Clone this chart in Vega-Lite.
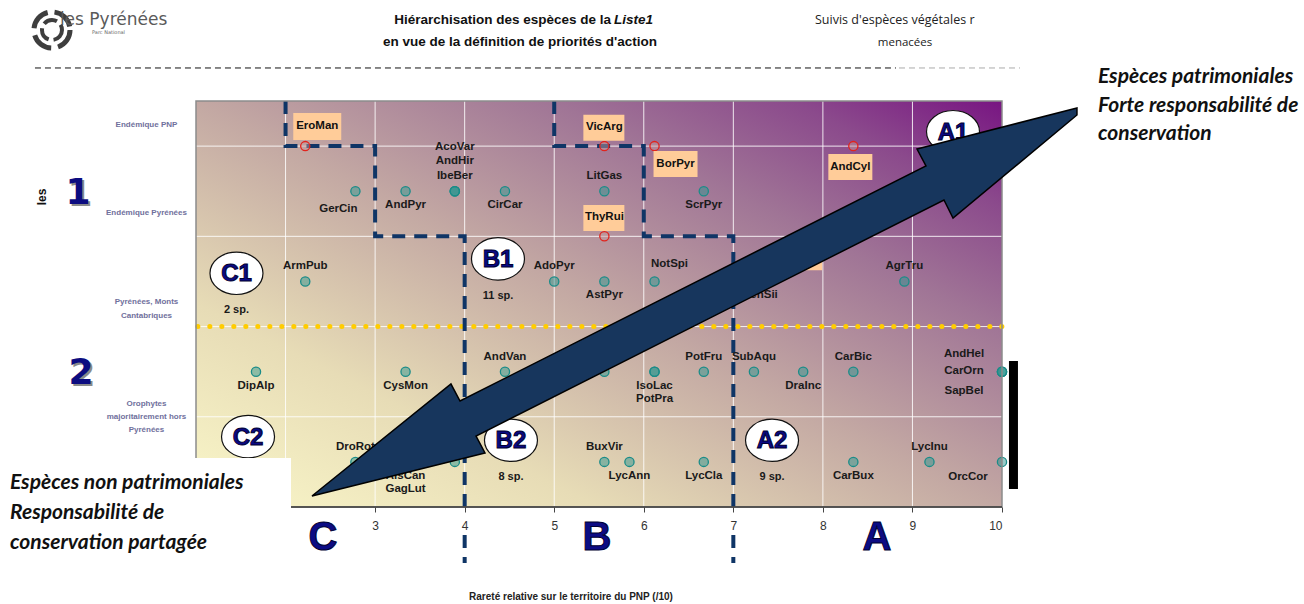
{
  "$schema": "https://vega.github.io/schema/vega-lite/v6.json",
  "width": 806,
  "height": 406,
  "autosize": {"type": "none"},
  "padding": {"left": 196, "top": 101, "right": 302, "bottom": 97},
  "background": "white",
  "config": {
    "view": {"stroke": null},
    "axisX": {"grid": false, "domain": false, "titleOpacity": 0}
  },
  "datasets": {
    "pts": [
      {"sp": "EroMan", "x": 2.22, "y": 4, "g": "red", "lp": "rar"},
      {"sp": "VicArg", "x": 5.56, "y": 4, "g": "red", "lp": "ra"},
      {"sp": "BorPyr", "x": 6.12, "y": 4, "g": "red", "lp": "rbr"},
      {"sp": "AndCyl", "x": 8.34, "y": 4, "g": "red", "lp": "rb"},
      {"sp": "ThyRui", "x": 5.56, "y": 3, "g": "red", "lp": "ra"},
      {"sp": "AndSii", "x": 7.78, "y": 3, "g": "red", "lp": "rb"},
      {"sp": "GerCin", "x": 2.78, "y": 3.5, "g": "teal", "lp": "bl"},
      {"sp": "AndPyr", "x": 3.34, "y": 3.5, "g": "teal", "lp": "b"},
      {"sp": "AcoVar", "x": 3.89, "y": 3.5, "g": "teal", "lp": "a3"},
      {"sp": "AndHir", "x": 3.89, "y": 3.5, "g": "teal", "lp": "a2"},
      {"sp": "IbeBer", "x": 3.89, "y": 3.5, "g": "teal", "lp": "a"},
      {"sp": "CirCar", "x": 4.45, "y": 3.5, "g": "teal", "lp": "b"},
      {"sp": "LitGas", "x": 5.56, "y": 3.5, "g": "teal", "lp": "a"},
      {"sp": "ScrPyr", "x": 6.67, "y": 3.5, "g": "teal", "lp": "b"},
      {"sp": "ArmPub", "x": 2.22, "y": 2.5, "g": "teal", "lp": "a"},
      {"sp": "AdoPyr", "x": 5.0, "y": 2.5, "g": "teal", "lp": "a"},
      {"sp": "AstPyr", "x": 5.56, "y": 2.5, "g": "teal", "lp": "b"},
      {"sp": "NotSpi", "x": 6.12, "y": 2.5, "g": "teal", "lp": "ar"},
      {"sp": "SenSii", "x": 7.3, "y": 2.5, "g": "teal", "lp": "b"},
      {"sp": "AgrTru", "x": 8.91, "y": 2.5, "g": "teal", "lp": "a"},
      {"sp": "DipAlp", "x": 1.67, "y": 1.5, "g": "teal", "lp": "b"},
      {"sp": "CysMon", "x": 3.34, "y": 1.5, "g": "teal", "lp": "b"},
      {"sp": "AndVan", "x": 4.45, "y": 1.5, "g": "teal", "lp": "a"},
      {"sp": "GenPyr", "x": 5.56, "y": 1.5, "g": "teal", "lp": "a"},
      {"sp": "IsoLac", "x": 6.12, "y": 1.5, "g": "teal", "lp": "b"},
      {"sp": "PotPra", "x": 6.12, "y": 1.5, "g": "teal", "lp": "b2"},
      {"sp": "PotFru", "x": 6.67, "y": 1.5, "g": "teal", "lp": "a"},
      {"sp": "SubAqu", "x": 7.23, "y": 1.5, "g": "teal", "lp": "a"},
      {"sp": "DraInc", "x": 7.78, "y": 1.5, "g": "teal", "lp": "b"},
      {"sp": "CarBic", "x": 8.34, "y": 1.5, "g": "teal", "lp": "a"},
      {"sp": "AndHel", "x": 10, "y": 1.5, "g": "teal", "lp": "la"},
      {"sp": "CarOrn", "x": 10, "y": 1.5, "g": "teal", "lp": "l"},
      {"sp": "SapBel", "x": 10, "y": 1.5, "g": "teal", "lp": "lb"},
      {"sp": "DroRot", "x": 2.78, "y": 0.5, "g": "teal", "lp": "a"},
      {"sp": "AlsCan", "x": 3.34, "y": 0.5, "g": "teal", "lp": "b"},
      {"sp": "GagLut", "x": 3.34, "y": 0.5, "g": "teal", "lp": "b2"},
      {"sp": "SilPyr", "x": 3.89, "y": 0.5, "g": "teal", "lp": "a"},
      {"sp": "BuxVir", "x": 5.56, "y": 0.5, "g": "teal", "lp": "a"},
      {"sp": "LycAnn", "x": 5.84, "y": 0.5, "g": "teal", "lp": "b"},
      {"sp": "LycCla", "x": 6.67, "y": 0.5, "g": "teal", "lp": "b"},
      {"sp": "CarBux", "x": 8.34, "y": 0.5, "g": "teal", "lp": "b"},
      {"sp": "LycInu", "x": 9.19, "y": 0.5, "g": "teal", "lp": "a"},
      {"sp": "OrcCor", "x": 10, "y": 0.5, "g": "teal", "lp": "bll"}
    ],
    "zones": [
      {"z": "C1", "x": 1.452, "y": 2.59, "n": "2 sp."},
      {"z": "B1", "x": 4.372, "y": 2.75, "n": "11 sp."},
      {"z": "A1", "x": 9.453, "y": 4.16, "n": ""},
      {"z": "C2", "x": 1.581, "y": 0.78, "n": ""},
      {"z": "B2", "x": 4.517, "y": 0.74, "n": "8 sp."},
      {"z": "A2", "x": 7.432, "y": 0.74, "n": "9 sp."}
    ],
    "bounds": [
      {"b": "C", "o": 1, "x": 2, "y": 4.5},
      {"b": "C", "o": 2, "x": 2, "y": 4},
      {"b": "C", "o": 3, "x": 3, "y": 4},
      {"b": "C", "o": 4, "x": 3, "y": 3},
      {"b": "C", "o": 5, "x": 4, "y": 3},
      {"b": "C", "o": 6, "x": 4, "y": 0},
      {"b": "Cb", "o": 1, "x": 4, "y": -0.31},
      {"b": "Cb", "o": 2, "x": 4, "y": -0.62},
      {"b": "B", "o": 1, "x": 5, "y": 4.5},
      {"b": "B", "o": 2, "x": 5, "y": 4},
      {"b": "B", "o": 3, "x": 6, "y": 4},
      {"b": "B", "o": 4, "x": 6, "y": 3},
      {"b": "B", "o": 5, "x": 7, "y": 3},
      {"b": "B", "o": 6, "x": 7, "y": 0},
      {"b": "Bb", "o": 1, "x": 7, "y": -0.31},
      {"b": "Bb", "o": 2, "x": 7, "y": -0.62}
    ],
    "arrow": [
      {"o": 1, "x": 2.295, "y": 0.122},
      {"o": 2, "x": 3.847, "y": 1.363},
      {"o": 3, "x": 3.948, "y": 1.175},
      {"o": 4, "x": 9.151, "y": 3.78},
      {"o": 5, "x": 9.051, "y": 3.968},
      {"o": 6, "x": 10.837, "y": 4.422},
      {"o": 7, "x": 10.837, "y": 4.345},
      {"o": 8, "x": 9.453, "y": 3.203},
      {"o": 9, "x": 9.352, "y": 3.403},
      {"o": 10, "x": 4.127, "y": 0.787},
      {"o": 11, "x": 4.227, "y": 0.599}
    ],
    "gx": [{"v": 2}, {"v": 3}, {"v": 4}, {"v": 5}, {"v": 6}, {"v": 7}, {"v": 8}, {"v": 9}],
    "gy": [{"v": 1}, {"v": 2}, {"v": 3}, {"v": 4}],
    "notes": [
      {"k": "ttlR", "t": "Hiérarchisation des espèces de la", "x": 5.634, "y": 5.398},
      {"k": "ttlI", "t": "Liste1", "x": 5.668, "y": 5.398},
      {"k": "ttl", "t": "en vue de la définition de priorités d'action", "x": 4.618, "y": 5.154},
      {"k": "sv", "t": "Suivis d'espèces végétales r", "x": 7.912, "y": 5.398},
      {"k": "svc", "t": "menacées", "x": 8.917, "y": 5.143},
      {"k": "logo", "t": "les Pyrénées", "x": -0.52, "y": 5.398},
      {"k": "logo2", "t": "Parc National", "x": -0.161, "y": 5.266},
      {"k": "side", "t": "Espèces patrimoniales", "x": 11.072, "y": 4.766},
      {"k": "side", "t": "Forte responsabilité de", "x": 11.072, "y": 4.445},
      {"k": "side", "t": "conservation", "x": 11.072, "y": 4.134},
      {"k": "side", "t": "Espèces non patrimoniales", "x": -1.077, "y": 0.266},
      {"k": "side", "t": "Responsabilité de", "x": -1.077, "y": -0.066},
      {"k": "side", "t": "conservation partagée", "x": -1.077, "y": -0.399},
      {"k": "ylab", "t": "Endémique PNP", "x": 0.447, "y": 4.234},
      {"k": "ylab", "t": "Endémique Pyrénées", "x": 0.447, "y": 3.259},
      {"k": "ylab", "t": "Pyrénées, Monts", "x": 0.447, "y": 2.272},
      {"k": "ylab", "t": "Cantabriques", "x": 0.447, "y": 2.117},
      {"k": "ylab", "t": "Orophytes", "x": 0.447, "y": 1.142},
      {"k": "ylab", "t": "majoritairement hors", "x": 0.447, "y": 0.998},
      {"k": "ylab", "t": "Pyrénées", "x": 0.447, "y": 0.853},
      {"k": "dig", "t": "1", "x": -0.318, "y": 3.48},
      {"k": "dig", "t": "2", "x": -0.284, "y": 1.485},
      {"k": "let", "t": "C", "x": 2.418, "y": -0.344},
      {"k": "let", "t": "B", "x": 5.478, "y": -0.344},
      {"k": "let", "t": "A", "x": 8.604, "y": -0.344},
      {"k": "axt", "t": "Rareté relative sur le territoire du PNP (/10)", "x": 5.187, "y": -0.998},
      {"k": "les", "t": "les", "x": -0.72, "y": 3.436}
    ]
  },
  "layer": [
    {
      "data": {"values": [{}]},
      "mark": {"type": "rect", "fill": {"gradient": "linear", "x1": 0, "y1": 1, "x2": 1, "y2": 0, "stops": [
        {"offset": 0, "color": "#faf7c9"},
        {"offset": 0.25, "color": "#e7dcb6"},
        {"offset": 0.5, "color": "#c3a8a3"},
        {"offset": 0.72, "color": "#a07596"},
        {"offset": 0.87, "color": "#8b4a8c"},
        {"offset": 1, "color": "#781582"}]}},
      "encoding": {
        "x": {"datum": 1, "type": "quantitative", "scale": {"domain": [1, 10], "nice": false, "zero": false}},
        "x2": {"datum": 10},
        "y": {"datum": 0, "type": "quantitative", "scale": {"domain": [0, 4.5], "nice": false, "zero": false}, "axis": null},
        "y2": {"datum": 4.5}
      }
    },
    {
      "data": {"name": "gx"},
      "mark": {"type": "rule", "color": "#ffffff", "strokeWidth": 1, "opacity": 0.85},
      "encoding": {"x": {"field": "v", "type": "quantitative", "title": null}}
    },
    {
      "data": {"name": "gy"},
      "mark": {"type": "rule", "color": "#ffffff", "strokeWidth": 1, "opacity": 0.85},
      "encoding": {"y": {"field": "v", "type": "quantitative", "axis": null}}
    },
    {
      "data": {"values": [{}]},
      "mark": {"type": "rule", "color": "#ffcc00", "strokeWidth": 5, "strokeDash": [0.1, 11.9], "strokeCap": "round"},
      "encoding": {"x": {"datum": 1.02, "type": "quantitative"}, "x2": {"datum": 10.04}, "y": {"datum": 2, "type": "quantitative", "axis": null}}
    },
    {
      "data": {"name": "bounds"},
      "mark": {"type": "line", "color": "#0f3566", "strokeWidth": 4, "strokeDash": [13, 9], "clip": false},
      "encoding": {
        "x": {"field": "x", "type": "quantitative", "title": null},
        "y": {"field": "y", "type": "quantitative", "axis": null},
        "detail": {"field": "b"},
        "order": {"field": "o", "type": "quantitative"}
      }
    },
    {
      "data": {"name": "pts"},
      "mark": {"type": "circle", "size": 85, "fillOpacity": 0.5, "strokeWidth": 1.3, "opacity": 1},
      "encoding": {
        "x": {"field": "x", "type": "quantitative", "title": null, "axis": {"values": [3, 4, 5, 6, 7, 8, 9, 10], "format": "d", "title": null, "grid": false, "domain": false, "ticks": true, "tickColor": "#444", "tickSize": 5, "labelFont": "Liberation Sans", "labelFontSize": 12, "labelColor": "#333", "labelPadding": 8, "zindex": 1}},
        "y": {"field": "y", "type": "quantitative", "axis": null},
        "fill": {"field": "g", "type": "nominal", "scale": {"domain": ["teal", "red"], "range": ["#2f958f", "#c49a9a"]}, "legend": null},
        "stroke": {"field": "g", "type": "nominal", "scale": {"domain": ["teal", "red"], "range": ["#1a8c88", "#e2231c"]}, "legend": null}
      }
    },
    {
      "data": {"name": "pts"},
      "transform": [{"filter": "datum.lp == 'a'"}],
      "mark": {"type": "text", "dy": -15, "font": "Liberation Sans", "fontWeight": "bold", "fontSize": 11.5, "color": "#1a1a1a"},
      "encoding": {"x": {"field": "x", "type": "quantitative", "title": null}, "y": {"field": "y", "type": "quantitative", "axis": null}, "text": {"field": "sp"}}
    },
    {
      "data": {"name": "pts"},
      "transform": [{"filter": "datum.lp == 'a2'"}],
      "mark": {"type": "text", "dy": -30, "font": "Liberation Sans", "fontWeight": "bold", "fontSize": 11.5, "color": "#1a1a1a"},
      "encoding": {"x": {"field": "x", "type": "quantitative", "title": null}, "y": {"field": "y", "type": "quantitative", "axis": null}, "text": {"field": "sp"}}
    },
    {
      "data": {"name": "pts"},
      "transform": [{"filter": "datum.lp == 'a3'"}],
      "mark": {"type": "text", "dy": -44, "font": "Liberation Sans", "fontWeight": "bold", "fontSize": 11.5, "color": "#1a1a1a"},
      "encoding": {"x": {"field": "x", "type": "quantitative", "title": null}, "y": {"field": "y", "type": "quantitative", "axis": null}, "text": {"field": "sp"}}
    },
    {
      "data": {"name": "pts"},
      "transform": [{"filter": "datum.lp == 'b'"}],
      "mark": {"type": "text", "dy": 14, "font": "Liberation Sans", "fontWeight": "bold", "fontSize": 11.5, "color": "#1a1a1a"},
      "encoding": {"x": {"field": "x", "type": "quantitative", "title": null}, "y": {"field": "y", "type": "quantitative", "axis": null}, "text": {"field": "sp"}}
    },
    {
      "data": {"name": "pts"},
      "transform": [{"filter": "datum.lp == 'b2'"}],
      "mark": {"type": "text", "dy": 27, "font": "Liberation Sans", "fontWeight": "bold", "fontSize": 11.5, "color": "#1a1a1a"},
      "encoding": {"x": {"field": "x", "type": "quantitative", "title": null}, "y": {"field": "y", "type": "quantitative", "axis": null}, "text": {"field": "sp"}}
    },
    {
      "data": {"name": "pts"},
      "transform": [{"filter": "datum.lp == 'ar'"}],
      "mark": {"type": "text", "dx": 15, "dy": -17, "font": "Liberation Sans", "fontWeight": "bold", "fontSize": 11.5, "color": "#1a1a1a"},
      "encoding": {"x": {"field": "x", "type": "quantitative", "title": null}, "y": {"field": "y", "type": "quantitative", "axis": null}, "text": {"field": "sp"}}
    },
    {
      "data": {"name": "pts"},
      "transform": [{"filter": "datum.lp == 'bl'"}],
      "mark": {"type": "text", "dx": -17, "dy": 18, "font": "Liberation Sans", "fontWeight": "bold", "fontSize": 11.5, "color": "#1a1a1a"},
      "encoding": {"x": {"field": "x", "type": "quantitative", "title": null}, "y": {"field": "y", "type": "quantitative", "axis": null}, "text": {"field": "sp"}}
    },
    {
      "data": {"name": "pts"},
      "transform": [{"filter": "datum.lp == 'bll'"}],
      "mark": {"type": "text", "dx": -34, "dy": 15, "font": "Liberation Sans", "fontWeight": "bold", "fontSize": 11.5, "color": "#1a1a1a"},
      "encoding": {"x": {"field": "x", "type": "quantitative", "title": null}, "y": {"field": "y", "type": "quantitative", "axis": null}, "text": {"field": "sp"}}
    },
    {
      "data": {"name": "pts"},
      "transform": [{"filter": "datum.lp == 'la'"}],
      "mark": {"type": "text", "dx": -38, "dy": -18, "font": "Liberation Sans", "fontWeight": "bold", "fontSize": 11.5, "color": "#1a1a1a"},
      "encoding": {"x": {"field": "x", "type": "quantitative", "title": null}, "y": {"field": "y", "type": "quantitative", "axis": null}, "text": {"field": "sp"}}
    },
    {
      "data": {"name": "pts"},
      "transform": [{"filter": "datum.lp == 'l'"}],
      "mark": {"type": "text", "dx": -38, "dy": -1, "font": "Liberation Sans", "fontWeight": "bold", "fontSize": 11.5, "color": "#1a1a1a"},
      "encoding": {"x": {"field": "x", "type": "quantitative", "title": null}, "y": {"field": "y", "type": "quantitative", "axis": null}, "text": {"field": "sp"}}
    },
    {
      "data": {"name": "pts"},
      "transform": [{"filter": "datum.lp == 'lb'"}],
      "mark": {"type": "text", "dx": -38, "dy": 19, "font": "Liberation Sans", "fontWeight": "bold", "fontSize": 11.5, "color": "#1a1a1a"},
      "encoding": {"x": {"field": "x", "type": "quantitative", "title": null}, "y": {"field": "y", "type": "quantitative", "axis": null}, "text": {"field": "sp"}}
    },
    {
      "data": {"name": "pts"},
      "transform": [{"filter": "datum.g == 'red'"}],
      "mark": {"type": "point", "filled": true, "fill": "#ffcc99", "opacity": 1, "size": 1936, "strokeWidth": 0},
      "encoding": {
        "x": {"field": "x", "type": "quantitative", "title": null},
        "y": {"field": "y", "type": "quantitative", "axis": null},
        "shape": {"field": "lp", "type": "nominal", "legend": null, "scale": {"domain": ["ra", "rar", "rb", "rbr"], "range": [
          "M-0.955,-1.42L0.909,-1.42L0.909,-0.24L-0.955,-0.24Z",
          "M-0.545,-1.5L1.636,-1.5L1.636,-0.273L-0.545,-0.273Z",
          "M-1.136,0.364L0.864,0.364L0.864,1.545L-1.136,1.545Z",
          "M-0.045,0.227L1.955,0.227L1.955,1.409L-0.045,1.409Z"]}}
      }
    },
    {
      "data": {"name": "pts"},
      "transform": [{"filter": "datum.lp == 'ra'"}],
      "mark": {"type": "text", "dy": -19, "font": "Liberation Sans", "fontWeight": "bold", "fontSize": 11.5, "color": "#111"},
      "encoding": {"x": {"field": "x", "type": "quantitative", "title": null}, "y": {"field": "y", "type": "quantitative", "axis": null}, "text": {"field": "sp"}}
    },
    {
      "data": {"name": "pts"},
      "transform": [{"filter": "datum.lp == 'rar'"}],
      "mark": {"type": "text", "dx": 12, "dy": -20, "font": "Liberation Sans", "fontWeight": "bold", "fontSize": 11.5, "color": "#111"},
      "encoding": {"x": {"field": "x", "type": "quantitative", "title": null}, "y": {"field": "y", "type": "quantitative", "axis": null}, "text": {"field": "sp"}}
    },
    {
      "data": {"name": "pts"},
      "transform": [{"filter": "datum.lp == 'rb'"}],
      "mark": {"type": "text", "dx": -3, "dy": 21, "font": "Liberation Sans", "fontWeight": "bold", "fontSize": 11.5, "color": "#111"},
      "encoding": {"x": {"field": "x", "type": "quantitative", "title": null}, "y": {"field": "y", "type": "quantitative", "axis": null}, "text": {"field": "sp"}}
    },
    {
      "data": {"name": "pts"},
      "transform": [{"filter": "datum.lp == 'rbr'"}],
      "mark": {"type": "text", "dx": 21, "dy": 18, "font": "Liberation Sans", "fontWeight": "bold", "fontSize": 11.5, "color": "#111"},
      "encoding": {"x": {"field": "x", "type": "quantitative", "title": null}, "y": {"field": "y", "type": "quantitative", "axis": null}, "text": {"field": "sp"}}
    },
    {
      "data": {"name": "zones"},
      "mark": {"type": "point", "filled": true, "fill": "#ffffff", "stroke": "#111111", "strokeWidth": 1.2, "opacity": 1, "size": 2809, "shape": "M-1,0A1,0.8,0,1,1,1,0A1,0.8,0,1,1,-1,0Z"},
      "encoding": {"x": {"field": "x", "type": "quantitative", "title": null}, "y": {"field": "y", "type": "quantitative", "axis": null}}
    },
    {
      "data": {"name": "zones"},
      "mark": {"type": "text", "font": "Liberation Sans", "fontWeight": "bold", "fontSize": 24, "color": "#0a0a84", "stroke": "#000033", "strokeWidth": 1, "dy": 1},
      "encoding": {"x": {"field": "x", "type": "quantitative", "title": null}, "y": {"field": "y", "type": "quantitative", "axis": null}, "text": {"field": "z"}}
    },
    {
      "data": {"name": "zones"},
      "mark": {"type": "text", "font": "Liberation Sans", "fontWeight": "bold", "fontSize": 11, "color": "#1a1a1a", "dy": 37},
      "encoding": {"x": {"field": "x", "type": "quantitative", "title": null}, "y": {"field": "y", "type": "quantitative", "axis": null}, "text": {"field": "n"}}
    },
    {
      "data": {"values": [{}]},
      "mark": {"type": "rect", "fill": null, "stroke": "#8c8c8c", "strokeWidth": 1.5},
      "encoding": {"x": {"datum": 1, "type": "quantitative"}, "x2": {"datum": 10}, "y": {"datum": 0, "type": "quantitative", "axis": null}, "y2": {"datum": 4.5}}
    },
    {
      "data": {"values": [{}]},
      "mark": {"type": "rule", "color": "#3a3a3a", "strokeWidth": 1.5},
      "encoding": {"x": {"datum": 1, "type": "quantitative"}, "x2": {"datum": 10}, "y": {"datum": 0, "type": "quantitative", "axis": null}}
    },
    {
      "data": {"values": [{}]},
      "mark": {"type": "rule", "color": "#000000", "strokeWidth": 9},
      "encoding": {"x": {"datum": 10.128, "type": "quantitative"}, "y": {"datum": 1.618, "type": "quantitative", "axis": null}, "y2": {"datum": 0.2}}
    },
    {
      "data": {"values": [{}]},
      "mark": {"type": "rect", "fill": "#ffffff", "strokeWidth": 0},
      "encoding": {"x": {"datum": -1.3, "type": "quantitative"}, "x2": {"datum": 2.061}, "y": {"datum": -1.2, "type": "quantitative", "axis": null}, "y2": {"datum": 0.543}}
    },
    {
      "data": {"name": "arrow"},
      "mark": {"type": "line", "interpolate": "linear-closed", "fill": "#17365d", "stroke": "#000000", "strokeWidth": 1.5, "clip": false},
      "encoding": {
        "x": {"field": "x", "type": "quantitative", "title": null},
        "y": {"field": "y", "type": "quantitative", "axis": null},
        "order": {"field": "o", "type": "quantitative"}
      }
    },
    {
      "data": {"values": [{}]},
      "mark": {"type": "rule", "color": "#111111", "strokeWidth": 1, "strokeDash": [6, 4]},
      "encoding": {"x": {"datum": -0.798, "type": "quantitative"}, "x2": {"datum": 8.816}, "y": {"datum": 4.866, "type": "quantitative", "axis": null}}
    },
    {
      "data": {"values": [{}]},
      "mark": {"type": "rule", "color": "#aaaaaa", "strokeWidth": 1, "strokeDash": [6, 4]},
      "encoding": {"x": {"datum": 8.85, "type": "quantitative"}, "x2": {"datum": 10.201}, "y": {"datum": 4.866, "type": "quantitative", "axis": null}}
    },
    {
      "data": {"values": [{}]},
      "mark": {"type": "point", "shape": "circle", "filled": false, "stroke": "#2a2a2a", "strokeWidth": 5, "strokeDash": [22, 7], "size": 1300, "opacity": 0.9},
      "encoding": {"x": {"datum": -0.608, "type": "quantitative"}, "y": {"datum": 5.287, "type": "quantitative", "axis": null}}
    },
    {
      "data": {"values": [{}]},
      "mark": {"type": "point", "shape": "circle", "filled": false, "stroke": "#2a2a2a", "strokeWidth": 4, "strokeDash": [14, 5], "size": 400, "opacity": 0.9},
      "encoding": {"x": {"datum": -0.608, "type": "quantitative"}, "y": {"datum": 5.287, "type": "quantitative", "axis": null}}
    },
    {
      "data": {"name": "notes"},
      "transform": [{"filter": "datum.k == 'ttlR'"}],
      "mark": {"type": "text", "align": "right", "font": "Liberation Sans", "fontWeight": "bold", "fontSize": 13.5, "color": "#111"},
      "encoding": {"x": {"field": "x", "type": "quantitative", "title": null}, "y": {"field": "y", "type": "quantitative", "axis": null}, "text": {"field": "t"}}
    },
    {
      "data": {"name": "notes"},
      "transform": [{"filter": "datum.k == 'ttlI'"}],
      "mark": {"type": "text", "align": "left", "font": "Liberation Sans", "fontWeight": "bold", "fontStyle": "italic", "fontSize": 13.5, "color": "#111"},
      "encoding": {"x": {"field": "x", "type": "quantitative", "title": null}, "y": {"field": "y", "type": "quantitative", "axis": null}, "text": {"field": "t"}}
    },
    {
      "data": {"name": "notes"},
      "transform": [{"filter": "datum.k == 'ttl'"}],
      "mark": {"type": "text", "font": "Liberation Sans", "fontWeight": "bold", "fontSize": 13.5, "color": "#111"},
      "encoding": {"x": {"field": "x", "type": "quantitative", "title": null}, "y": {"field": "y", "type": "quantitative", "axis": null}, "text": {"field": "t"}}
    },
    {
      "data": {"name": "notes"},
      "transform": [{"filter": "datum.k == 'sv'"}],
      "mark": {"type": "text", "align": "left", "font": "Open Sans", "fontSize": 12.5, "color": "#222"},
      "encoding": {"x": {"field": "x", "type": "quantitative", "title": null}, "y": {"field": "y", "type": "quantitative", "axis": null}, "text": {"field": "t"}}
    },
    {
      "data": {"name": "notes"},
      "transform": [{"filter": "datum.k == 'svc'"}],
      "mark": {"type": "text", "font": "Open Sans", "fontSize": 11.5, "color": "#222"},
      "encoding": {"x": {"field": "x", "type": "quantitative", "title": null}, "y": {"field": "y", "type": "quantitative", "axis": null}, "text": {"field": "t"}}
    },
    {
      "data": {"name": "notes"},
      "transform": [{"filter": "datum.k == 'logo'"}],
      "mark": {"type": "text", "align": "left", "font": "DejaVu Sans", "fontSize": 17, "color": "#5a5a5a"},
      "encoding": {"x": {"field": "x", "type": "quantitative", "title": null}, "y": {"field": "y", "type": "quantitative", "axis": null}, "text": {"field": "t"}}
    },
    {
      "data": {"name": "notes"},
      "transform": [{"filter": "datum.k == 'logo2'"}],
      "mark": {"type": "text", "align": "left", "font": "DejaVu Sans", "fontSize": 5, "color": "#666"},
      "encoding": {"x": {"field": "x", "type": "quantitative", "title": null}, "y": {"field": "y", "type": "quantitative", "axis": null}, "text": {"field": "t"}}
    },
    {
      "data": {"name": "notes"},
      "transform": [{"filter": "datum.k == 'side'"}],
      "mark": {"type": "text", "align": "left", "font": "Lato", "fontWeight": "bold", "fontStyle": "italic", "fontSize": 21, "color": "#111"},
      "encoding": {"x": {"field": "x", "type": "quantitative", "title": null}, "y": {"field": "y", "type": "quantitative", "axis": null}, "text": {"field": "t"}}
    },
    {
      "data": {"name": "notes"},
      "transform": [{"filter": "datum.k == 'ylab'"}],
      "mark": {"type": "text", "font": "Liberation Sans", "fontWeight": "bold", "fontSize": 8, "color": "#70709c"},
      "encoding": {"x": {"field": "x", "type": "quantitative", "title": null}, "y": {"field": "y", "type": "quantitative", "axis": null}, "text": {"field": "t"}}
    },
    {
      "data": {"name": "notes"},
      "transform": [{"filter": "datum.k == 'dig'"}],
      "mark": {"type": "text", "font": "DejaVu Sans", "fontWeight": "bold", "fontSize": 36, "color": "#8a8a8a", "dx": 2, "dy": 2},
      "encoding": {"x": {"field": "x", "type": "quantitative", "title": null}, "y": {"field": "y", "type": "quantitative", "axis": null}, "text": {"field": "t"}}
    },
    {
      "data": {"name": "notes"},
      "transform": [{"filter": "datum.k == 'dig'"}],
      "mark": {"type": "text", "font": "DejaVu Sans", "fontWeight": "bold", "fontSize": 36, "color": "#0c0c80"},
      "encoding": {"x": {"field": "x", "type": "quantitative", "title": null}, "y": {"field": "y", "type": "quantitative", "axis": null}, "text": {"field": "t"}}
    },
    {
      "data": {"name": "notes"},
      "transform": [{"filter": "datum.k == 'let'"}],
      "mark": {"type": "text", "font": "Liberation Sans", "fontWeight": "bold", "fontSize": 40, "color": "#0c0c84", "stroke": "#000033", "strokeWidth": 1},
      "encoding": {"x": {"field": "x", "type": "quantitative", "title": null}, "y": {"field": "y", "type": "quantitative", "axis": null}, "text": {"field": "t"}}
    },
    {
      "data": {"name": "notes"},
      "transform": [{"filter": "datum.k == 'axt'"}],
      "mark": {"type": "text", "font": "Liberation Sans", "fontWeight": "bold", "fontSize": 10, "color": "#222"},
      "encoding": {"x": {"field": "x", "type": "quantitative", "title": null}, "y": {"field": "y", "type": "quantitative", "axis": null}, "text": {"field": "t"}}
    },
    {
      "data": {"name": "notes"},
      "transform": [{"filter": "datum.k == 'les'"}],
      "mark": {"type": "text", "angle": 270, "font": "Liberation Sans", "fontWeight": "bold", "fontSize": 12, "color": "#111"},
      "encoding": {"x": {"field": "x", "type": "quantitative", "title": null}, "y": {"field": "y", "type": "quantitative", "axis": null}, "text": {"field": "t"}}
    }
  ]
}
